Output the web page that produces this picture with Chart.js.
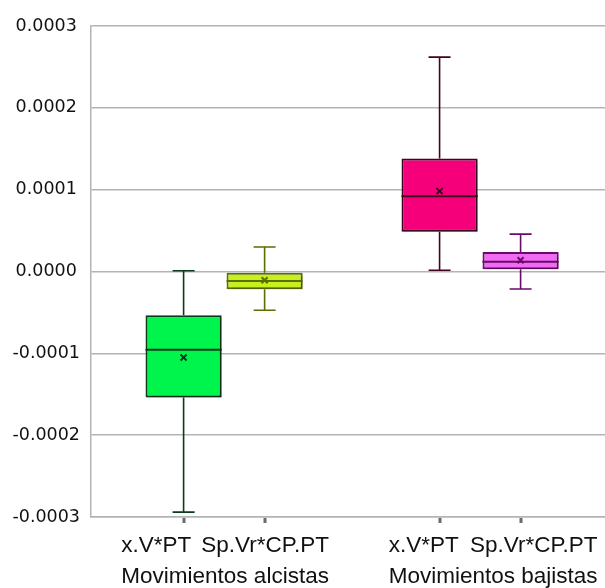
<!DOCTYPE html>
<html><head><meta charset="utf-8">
<script src="https://cdn.jsdelivr.net/npm/chart.js@4"></script>
<style>html,body{margin:0;padding:0;background:#fff;overflow:hidden}#wrap{width:605px;height:588px}</style>
</head><body><div id="wrap"><canvas id="c" width="605" height="588"></canvas></div>
<script>
// ---- data ----
const categories = ["Movimientos alcistas", "Movimientos bajistas"];
const seriesNames = ["x.V*PT", "Sp.Vr*CP.PT"];

const xvptMin    = [-0.000294,  0.0000015];
const xvptQ1     = [-0.000154,  0.0000485];
const xvptMedian = [-0.0000957, 0.0000921];
const xvptQ3     = [-0.0000534, 0.000138];
const xvptMax    = [ 0.000001,  0.000262];
const xvptMean   = [-0.000105,  0.0000982];

const spMin    = [-0.0000473, -0.0000213];
const spQ1     = [-0.0000217,  0.0000027];
const spMedian = [-0.0000116,  0.000012];
const spQ3     = [-0.0000015,  0.0000238];
const spMax    = [ 0.00003,    0.0000457];
const spMean   = [-0.0000107,  0.0000137];

const yMin = -0.0003, yMax = 0.0003, yStep = 0.0001;

// ---- styles ----
const fills  = [["#00f54c", "#f5007a"], ["#c8f01e", "#f06af2"]];
const lines  = [["#0b3a1c", "#3e0420"], ["#5a7000", "#6a0a6a"]];

const stats = [
  {min: xvptMin, q1: xvptQ1, med: xvptMedian, q3: xvptQ3, max: xvptMax, mean: xvptMean},
  {min: spMin, q1: spQ1, med: spMedian, q3: spQ3, max: spMax, mean: spMean}
];

const GRID = "#b3b3b3";
const groupShift = [1, 13];

const boxPlugin = {
  id: 'boxDetails',
  beforeDatasetsDraw(chart) {
    const ctx = chart.ctx;
    ctx.save();
    ctx.shadowColor = 'rgba(0,0,0,0.28)';
    ctx.shadowOffsetX = 2; ctx.shadowOffsetY = 2; ctx.shadowBlur = 3;
  },
  afterDatasetsDraw(chart) {
    const ctx = chart.ctx;
    ctx.restore();
    const y = chart.scales.y;
    stats.forEach((s, di) => {
      const meta = chart.getDatasetMeta(di);
      meta.data.forEach((bar, i) => {
        const x = bar.x, w = bar.width;
        const pMin = y.getPixelForValue(s.min[i]);
        const pMax = y.getPixelForValue(s.max[i]);
        const pQ1 = y.getPixelForValue(s.q1[i]);
        const pQ3 = y.getPixelForValue(s.q3[i]);
        const pMed = y.getPixelForValue(s.med[i]);
        const pMean = y.getPixelForValue(s.mean[i]);
        ctx.save();
        ctx.strokeStyle = lines[di][i];
        ctx.lineWidth = 1.6;
        ctx.beginPath();
        ctx.moveTo(x, pQ3); ctx.lineTo(x, pMax);
        ctx.moveTo(x, pQ1); ctx.lineTo(x, pMin);
        ctx.moveTo(x - 11, pMax); ctx.lineTo(x + 11, pMax);
        ctx.moveTo(x - 11, pMin); ctx.lineTo(x + 11, pMin);
        ctx.stroke();
        ctx.lineWidth = 2;
        ctx.beginPath();
        ctx.moveTo(x - w / 2, pMed); ctx.lineTo(x + w / 2, pMed);
        ctx.stroke();
        ctx.lineWidth = 2;
        const m = 3;
        ctx.beginPath();
        ctx.moveTo(x - m, pMean - m); ctx.lineTo(x + m, pMean + m);
        ctx.moveTo(x - m, pMean + m); ctx.lineTo(x + m, pMean - m);
        ctx.stroke();
        ctx.restore();
      });
    });
  },
  afterDraw(chart) {
    const ctx = chart.ctx;
    const xs = chart.scales.x;
    const bottom = chart.chartArea.bottom;
    ctx.save();
    ctx.fillStyle = "#6b6b6b";
    stats.forEach((s, di) => {
      chart.getDatasetMeta(di).data.forEach(bar => {
        ctx.fillRect(Math.round(bar.x) - 1.5, bottom + 1, 3, 5);
      });
    });
    ctx.fillStyle = "#111";
    ctx.font = "22.5px 'Liberation Sans', Arial, sans-serif";
    ctx.textBaseline = 'alphabetic';
    categories.forEach((cat, i) => {
      const cx = xs.getPixelForValue(i) + groupShift[i];
      const wCat = ctx.measureText(cat).width;
      const left = cx - wCat / 2, right = cx + wCat / 2;
      ctx.textAlign = 'center';
      ctx.fillText(cat, cx, 582.5);
      ctx.textAlign = 'left';
      ctx.fillText(seriesNames[0], left, 552);
      ctx.textAlign = 'right';
      ctx.fillText(seriesNames[1], right, 552);
    });
    ctx.restore();
  }
};

const datasets = seriesNames.map((name, di) => ({
  label: name,
  data: categories.map((c, i) => [stats[di].q1[i], stats[di].q3[i]]),
  backgroundColor: fills[di],
  borderColor: lines[di],
  borderWidth: 2,
  borderSkipped: false,
  categoryPercentage: 0.633,
  barPercentage: 0.94
}));

new Chart(document.getElementById('c'), {
  type: 'bar',
  data: { labels: categories, datasets },
  plugins: [boxPlugin],
  options: {
    responsive: false,
    animation: false,
    layout: { padding: { top: 26, right: 0, left: 0, bottom: 0 } },
    plugins: { legend: { display: false }, tooltip: { enabled: false } },
    scales: {
      x: {
        grid: { display: false },
        border: { display: true, color: GRID, width: 1.5 },
        ticks: { display: false },
        afterFit(s) { s.height = 71; },
        // category band: first group centred slightly right of a uniform split
        afterBuildTicks(s) { s._startValue = -0.52; s._valueRange = 2.008; }
      },
      y: {
        min: yMin, max: yMax,
        grid: { color: GRID, lineWidth: 1.5, drawTicks: false },
        border: { display: true, color: GRID, width: 1.5 },
        ticks: {
          stepSize: yStep,
          padding: 11,
          crossAlign: 'center',
          color: '#111',
          font: { family: "'DejaVu Sans'", size: 17.5 },
          callback: v => (Math.abs(v) < 1e-12 ? 0 : v).toFixed(4)
        },
        afterFit(s) { s.width = 91; }
      }
    }
  }
});
</script>
</body></html>
